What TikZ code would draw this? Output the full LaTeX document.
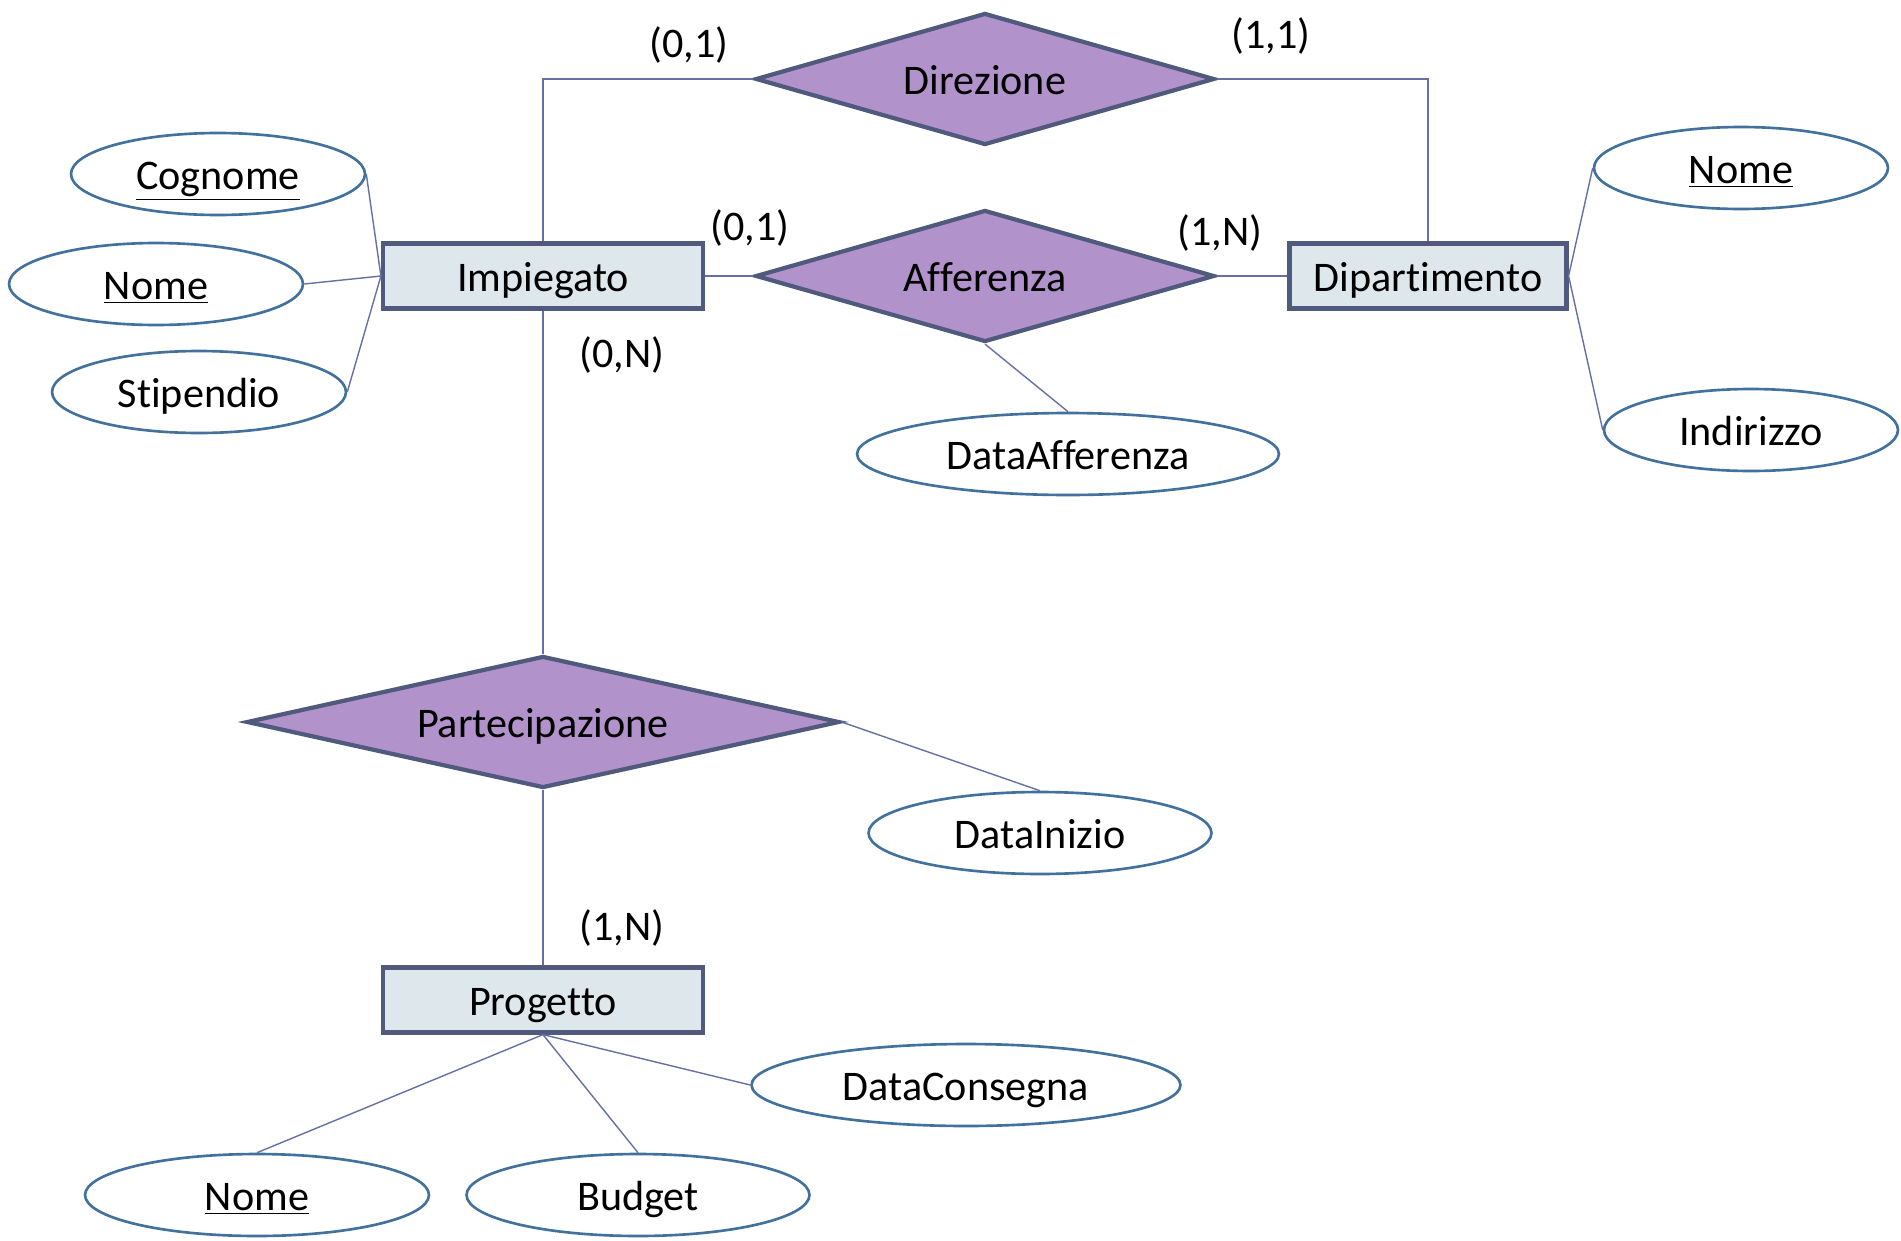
\documentclass[tikz,border=0pt]{standalone}
\usepackage{fontspec}
\setmainfont{Carlito}[Ligatures=NoCommon]
\usepackage{tikz}
\usetikzlibrary{shapes.geometric,positioning,calc}
\definecolor{relpurple}{RGB}{177,146,203}
\definecolor{edgeslate}{RGB}{80,90,124}
\definecolor{entfill}{RGB}{222,232,236}
\definecolor{attrblue}{RGB}{65,113,156}
\definecolor{linkslate}{RGB}{102,112,164}
\tikzset{
  ent/.style={rectangle,draw=edgeslate,line width=2.4pt,fill=entfill,
              minimum width=6.4cm,minimum height=1.3cm,inner sep=0pt,
              text height=23.5pt,text depth=6pt},
  rel/.style={diamond,draw=edgeslate,line width=2.4pt,fill=relpurple,
              minimum width=9.18cm,minimum height=2.64cm,inner sep=0pt,shape aspect=3.5,
              text height=23.5pt,text depth=6pt},
  attr/.style={ellipse,draw=attrblue,line width=1.5pt,fill=white,
               minimum width=5.88cm,minimum height=1.64cm,inner sep=0pt,
               text height=23.5pt,text depth=6pt},
  card/.style={inner sep=0pt},
  ln/.style={draw=linkslate,line width=0.8pt},
}
\begin{document}
\begin{tikzpicture}[x=0.02cm,y=-0.02cm,every node/.style={font=\fontsize{24}{29}\selectfont}]
  \useasboundingbox (0,0) rectangle (1901,1241);
  % entities and relationships
  \node[ent] (imp) at (543,276) {Impiegato};
  \node[ent,minimum width=5.54cm] (dip) at (1428,276) {Dipartimento};
  \node[ent] (pro) at (543,1000) {Progetto};
  \node[rel] (dir) at (985,79) {Direzione};
  \node[rel] (aff) at (985,276) {Afferenza};
  \node[rel,minimum width=11.86cm,shape aspect=4.5] (par) at (543,722) {Partecipazione};
  % attributes
  \node[attr] (cog) at (218,174) {\underline{Cognome}};
  \node[attr] (inom) at (156,284) {\underline{Nome}};
  \node[attr] (sti) at (199,392) {Stipendio};
  \node[attr] (dnom) at (1741,168) {\underline{Nome}};
  \node[attr] (ind) at (1751,430) {Indirizzo};
  \node[attr,minimum width=8.44cm] (daff) at (1068,454) {DataAfferenza};
  \node[attr,minimum width=6.86cm] (dini) at (1040,833) {DataInizio};
  \node[attr,minimum width=8.58cm] (dcon) at (966,1085) {DataConsegna};
  \node[attr,minimum width=6.88cm] (pnom) at (257,1195) {\underline{Nome}};
  \node[attr,minimum width=6.86cm] (bud) at (638,1195) {Budget};
  % cardinalities
  \node[card] (c1) at (689,45) {(0,1)};
  \node[card] (c2) at (1271,36) {(1,1)};
  \node[card] (c3) at (750,228) {(0,1)};
  \node[card] (c4) at (1220,233) {(1,N)};
  \node[card] (c5) at (622,355) {(0,N)};
  \node[card] (c6) at (622,928) {(1,N)};
  % links
  \draw[ln] (imp.north) |- (dir.west);
  \draw[ln] (dip.north) |- (dir.east);
  \draw[ln] (imp.east) -- (aff.west);
  \draw[ln] (aff.east) -- (dip.west);
  \draw[ln] (aff.south) -- (daff.north);
  \draw[ln] (imp.south) -- (par.north);
  \draw[ln] (par.south) -- (pro.north);
  \draw[ln] (par.east) -- (dini.north);
  \draw[ln] (cog.east) -- (imp.west);
  \draw[ln] (inom.east) -- (imp.west);
  \draw[ln] (sti.east) -- (imp.west);
  \draw[ln] (dip.east) -- (dnom.west);
  \draw[ln] (dip.east) -- (ind.west);
  \draw[ln] (pro.south) -- (pnom.north);
  \draw[ln] (pro.south) -- (bud.north);
  \draw[ln] (pro.south) -- (dcon.west);
\end{tikzpicture}
\end{document}
